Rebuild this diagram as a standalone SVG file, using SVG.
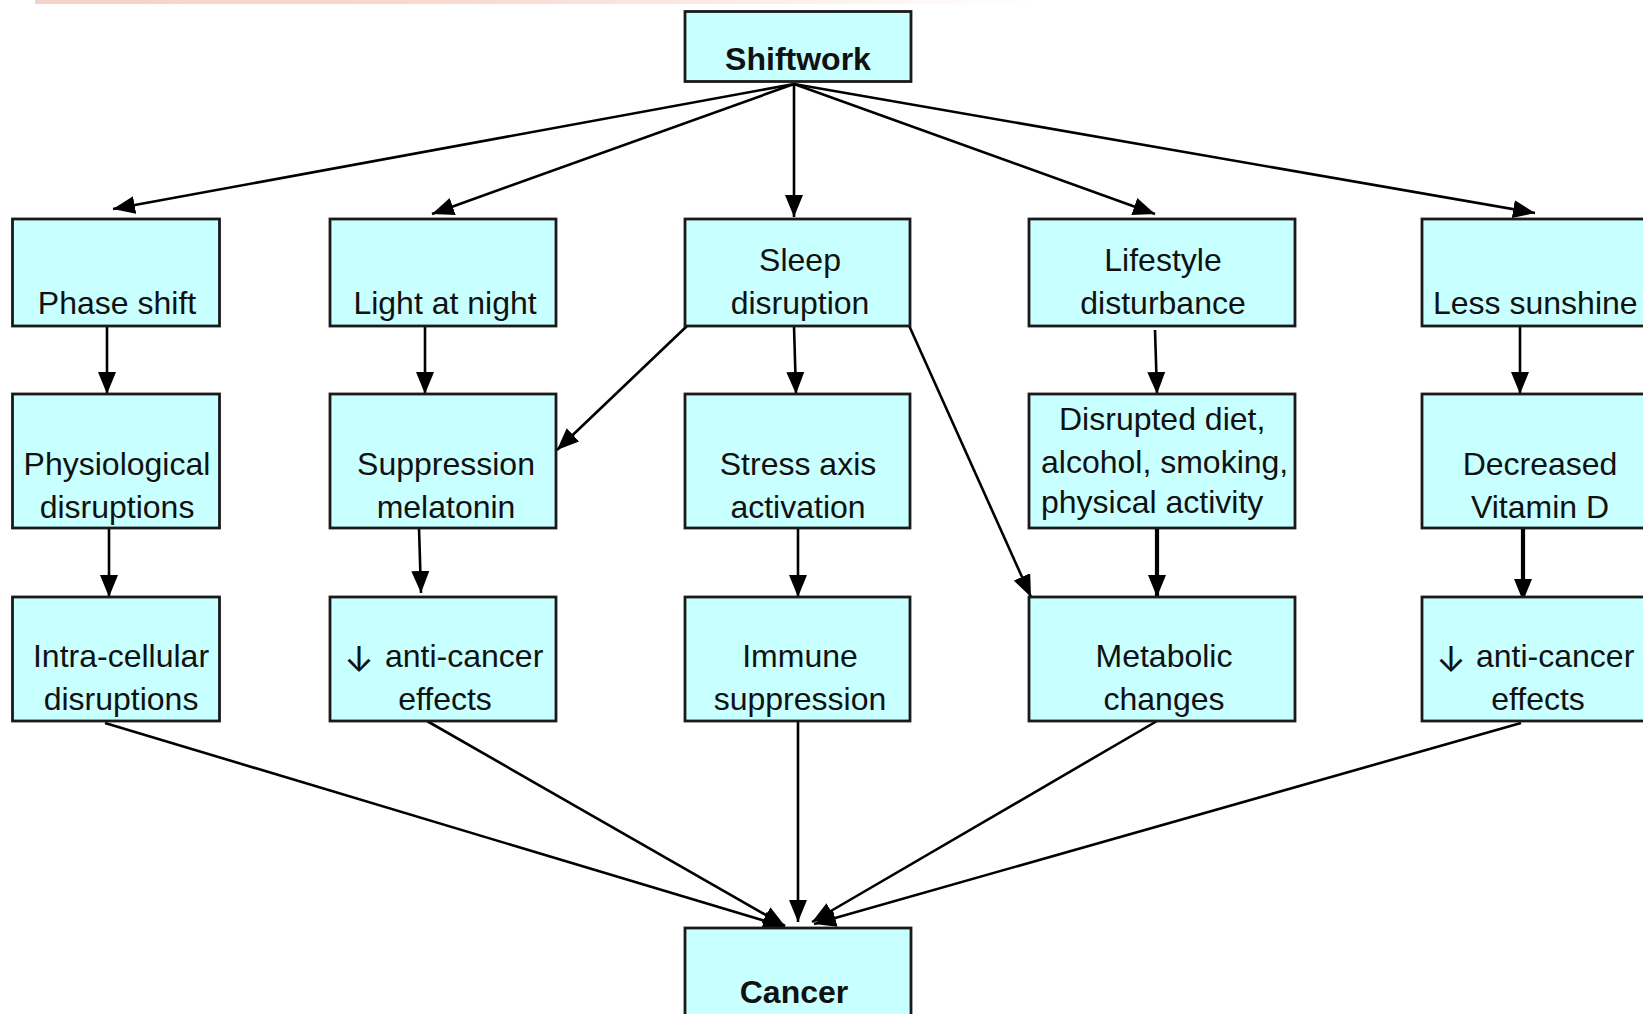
<svg xmlns="http://www.w3.org/2000/svg" width="1643" height="1014" viewBox="0 0 1643 1014">
<defs>
<linearGradient id="topbar" x1="0" y1="0" x2="1" y2="0">
<stop offset="0" stop-color="#f6d3ca"/>
<stop offset="0.4" stop-color="#f8d8cf"/>
<stop offset="1" stop-color="#ffffff"/>
</linearGradient>
<marker id="ah" markerUnits="userSpaceOnUse" markerWidth="24" markerHeight="20" refX="22" refY="10" orient="auto">
<path d="M0,1 L22,10 L0,19 Z" fill="#000"/>
</marker>
<style>
.box{fill:#c8ffff;stroke:#1a1a1a;stroke-width:2.8}
.t{font-family:"Liberation Sans",Arial,sans-serif;font-size:32px;fill:#111;text-anchor:middle}
.b{font-weight:bold}
.s{text-anchor:start}
.ar{font-family:Inter,"DejaVu Sans",sans-serif;font-size:36px;font-weight:400}
.c{stroke:#000;stroke-width:2.6;fill:none;marker-end:url(#ah)}
.k{stroke-width:4.2}
</style>
</defs>
<rect width="1643" height="1014" fill="#fff"/>
<rect x="35" y="0" width="1000" height="4" fill="url(#topbar)"/>

<g id="connectors">
<line class="c" x1="794" y1="84" x2="113" y2="209"/>
<line class="c" x1="794" y1="84" x2="432" y2="214"/>
<line class="c" x1="794" y1="84" x2="794" y2="217"/>
<line class="c" x1="794" y1="84" x2="1155" y2="214"/>
<line class="c" x1="794" y1="84" x2="1535" y2="213"/>
<line class="c" x1="107" y1="326" x2="107" y2="394"/>
<line class="c" x1="425" y1="326" x2="425" y2="394"/>
<line class="c" x1="687" y1="326" x2="557" y2="450"/>
<line class="c" x1="794" y1="326" x2="796" y2="394"/>
<line class="c" x1="907" y1="321" x2="1031" y2="597"/>
<line class="c" x1="1155" y1="330" x2="1157" y2="394"/>
<line class="c" x1="1520" y1="326" x2="1520" y2="394"/>
<line class="c" x1="109" y1="528" x2="109" y2="597"/>
<line class="c" x1="419" y1="528" x2="421" y2="593"/>
<line class="c" x1="798" y1="528" x2="798" y2="597"/>
<line class="c k" x1="1157" y1="528" x2="1157" y2="597"/>
<line class="c k" x1="1523" y1="524" x2="1523" y2="601"/>
<line class="c" x1="105" y1="723" x2="785" y2="927"/>
<line class="c" x1="427" y1="721" x2="785" y2="926"/>
<line class="c" x1="798" y1="721" x2="798" y2="922"/>
<line class="c" x1="1157" y1="721" x2="812" y2="922"/>
<line class="c" x1="1521" y1="723" x2="814" y2="924"/>
</g>

<g id="shiftwork"><rect class="box" x="685" y="11.5" width="226" height="70"/><text class="t b" x="798" y="70">Shiftwork</text></g>

<g id="phase-shift"><rect class="box" x="12.5" y="219" width="207" height="107"/><text class="t" x="117" y="314">Phase shift</text></g>
<g id="light-at-night"><rect class="box" x="330" y="219" width="226" height="107"/><text class="t" x="445" y="314">Light at night</text></g>
<g id="sleep-disruption"><rect class="box" x="685" y="219" width="225" height="107"/><text class="t" x="800" y="271">Sleep</text><text class="t" x="800" y="314">disruption</text></g>
<g id="lifestyle-disturbance"><rect class="box" x="1029" y="219" width="266" height="107"/><text class="t" x="1163" y="271">Lifestyle</text><text class="t" x="1163" y="314">disturbance</text></g>
<g id="less-sunshine"><rect class="box" x="1422" y="219" width="260" height="107"/><text class="t s" x="1433" y="314">Less sunshine</text></g>

<g id="physiological"><rect class="box" x="12.5" y="394" width="207" height="134"/><text class="t" x="117" y="475">Physiological</text><text class="t" x="117" y="518">disruptions</text></g>
<g id="suppression-melatonin"><rect class="box" x="330" y="394" width="226" height="134"/><text class="t" x="446" y="475">Suppression</text><text class="t" x="446" y="518">melatonin</text></g>
<g id="stress-axis"><rect class="box" x="685" y="394" width="225" height="134"/><text class="t" x="798" y="475">Stress axis</text><text class="t" x="798" y="518">activation</text></g>
<g id="disrupted-diet"><rect class="box" x="1029" y="394" width="266" height="134"/><text class="t s" x="1059" y="430">Disrupted diet,</text><text class="t s" x="1041" y="473">alcohol, smoking,</text><text class="t s" x="1041" y="513">physical activity</text></g>
<g id="vitamin-d"><rect class="box" x="1422" y="394" width="260" height="134"/><text class="t" x="1540" y="475">Decreased</text><text class="t" x="1540" y="518">Vitamin D</text></g>

<g id="intra-cellular"><rect class="box" x="12.5" y="597" width="207" height="124"/><text class="t" x="121" y="667">Intra-cellular</text><text class="t" x="121" y="710">disruptions</text></g>
<g id="anti-cancer-1"><rect class="box" x="330" y="597" width="226" height="124"/><text class="t s" x="344" y="667"><tspan class="ar" dy="5">↓</tspan><tspan x="385" dy="-5">anti-cancer</tspan></text><text class="t" x="445" y="710">effects</text></g>
<g id="immune-suppression"><rect class="box" x="685" y="597" width="225" height="124"/><text class="t" x="800" y="667">Immune</text><text class="t" x="800" y="710">suppression</text></g>
<g id="metabolic-changes"><rect class="box" x="1029" y="597" width="266" height="124"/><text class="t" x="1164" y="667">Metabolic</text><text class="t" x="1164" y="710">changes</text></g>
<g id="anti-cancer-2"><rect class="box" x="1422" y="597" width="260" height="124"/><text class="t s" x="1436" y="667"><tspan class="ar" dy="5">↓</tspan><tspan x="1476" dy="-5">anti-cancer</tspan></text><text class="t" x="1538" y="710">effects</text></g>

<g id="cancer"><rect class="box" x="685" y="928" width="226" height="110"/><text class="t b" x="794" y="1003">Cancer</text></g>
</svg>
